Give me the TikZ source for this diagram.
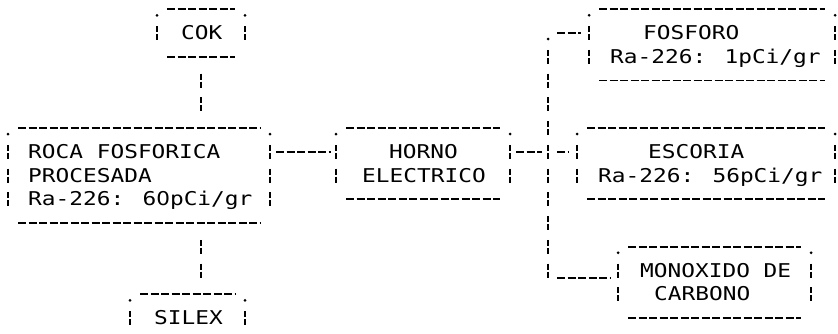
\documentclass[tikz,border=0pt]{standalone}
\usepackage{fontspec}
\newfontfamily\dm[FakeStretch=1.2]{DejaVu Sans Mono}
\newfontfamily\dmz[FakeStretch=1.134]{DejaVu Sans}
\newcommand\zro{{\dmz 0}}
\usetikzlibrary{calc}
\tikzset{
  hdash/.style={line width=1.6pt, dash pattern=on 8pt off 2.5pt},
  vbar/.style={line width=1.6pt, dash pattern=on 6pt off 2pt on 6pt off 9.75pt},
  frame/.style={draw=none, inner sep=0pt, outer sep=0pt, rectangle},
  txt/.style={inner sep=0pt, anchor=base west, font=\dm\fontsize{19}{22}\selectfont}
}
\newcommand\dmframe[3]{%
  \draw[hdash] ($(#1.north west)+(10,0)$) -- ($(#1.north east)+(-10,0)$);
  \fill ($(#1.north west)+(0,6)$) circle (1.5pt) ($(#1.north east)+(0,6)$) circle (1.5pt);
  \draw[vbar] ($(#1.west|-r#2)+(0,-7)$) -- ($(#1.west|-r#3)+(0,7)$);
  \draw[vbar] ($(#1.east|-r#2)+(0,-7)$) -- ($(#1.east|-r#3)+(0,7)$);
}
\newcommand\dmbottom[1]{\draw[hdash] ($(#1.south west)+(10,0)$) -- ($(#1.south east)+(-10,0)$);}
\begin{document}
\begin{tikzpicture}[x=1pt,y=-1pt]
\useasboundingbox[fill=white] (0,0) rectangle (838,333);
\foreach \n in {0,...,14} \coordinate (r\n) at (0,9.25+23.75*\n);

% frames
\node[frame, minimum width=88pt,  minimum height=47.5pt]  (cok)     at (201,33) {};
\node[frame, minimum width=262pt, minimum height=95pt]    (roca)    at (139,175.5) {};
\node[frame, minimum width=174pt, minimum height=71.25pt] (horno)   at (423,163.625) {};
\node[frame, minimum width=246pt, minimum height=71.25pt] (fosforo) at (712,44.875) {};
\node[frame, minimum width=258pt, minimum height=71.25pt] (escoria) at (706,163.625) {};
\node[frame, minimum width=193pt, minimum height=71.25pt] (monox)   at (714.5,282.375) {};
\node[frame, minimum width=115pt, minimum height=47.5pt]  (silex)   at (187.5,318) {};

\dmframe{cok}{1}{1}\dmbottom{cok}
\dmframe{roca}{6}{8}\dmbottom{roca}
\dmframe{horno}{6}{7}\dmbottom{horno}
\dmframe{fosforo}{1}{2}\dmbottom{fosforo}
\dmframe{escoria}{6}{7}\dmbottom{escoria}
\dmframe{monox}{11}{12}\dmbottom{monox}
\dmframe{silex}{13}{13}

% texts
\node[txt] (tcok)  at (181,39.5) {COK};
\node[txt] (troc1) at (28,158.25) {ROCA FOSFORICA};
\node[txt] (troc2) at (28,182) {PROCESADA};
\node[txt] (troc3) at (28,205.75) {Ra-226: 6\zro pCi/gr};
\node[txt] (thor1) at (389,158.25) {HORNO};
\node[txt] (thor2) at (362,182) {ELECTRICO};
\node[txt] (tfos1) at (643,39.5) {FOSFORO};
\node[txt] (tfos2) at (610,63.25) {Ra-226: 1pCi/gr};
\node[txt] (tesc1) at (648,158.25) {ESCORIA};
\node[txt] (tesc2) at (598,182) {Ra-226: 56pCi/gr};
\node[txt] (tmon1) at (640,277) {MONOXIDO DE};
\node[txt] (tmon2) at (654,300.75) {CARBONO};
\node[txt] (tsil)  at (154,324.5) {SILEX};

% connectors
\draw[vbar] ($(cok.south)+(0,16.75)$) -- ($(roca.north-|cok.south)+(0,-16.75)$);
\draw[vbar] ($(roca.south-|cok.south)+(0,16.75)$) -- ($(silex.north-|cok.south)+(0,-16.75)$);
\draw[hdash] ($(roca.east|-r6)+(6,0)$) -- ($(horno.west|-r6)+(-5,0)$);
\coordinate (bus) at (548,151.75);
\draw[hdash] ($(horno.east|-r6)+(6,0)$) -- ($(bus)+(-6,0)$);
\fill ($(bus|-r1)+(0,6)$) circle (1.5pt);
\draw[hdash] ($(bus|-r1)+(9,0)$) -- ($(fosforo.west|-r1)+(-8,0)$);
\draw[vbar] ($(bus|-r2)+(0,-7)$) -- ($(bus|-r11)+(0,7)$);
\draw[hdash] ($(bus)+(9,0)$) -- ($(escoria.west|-r6)+(-8,0)$);
\draw[hdash] ($(bus|-r11)+(9,7.5)$) -- ($(monox.west|-r11)+(-7,7.5)$);
\end{tikzpicture}
\end{document}
